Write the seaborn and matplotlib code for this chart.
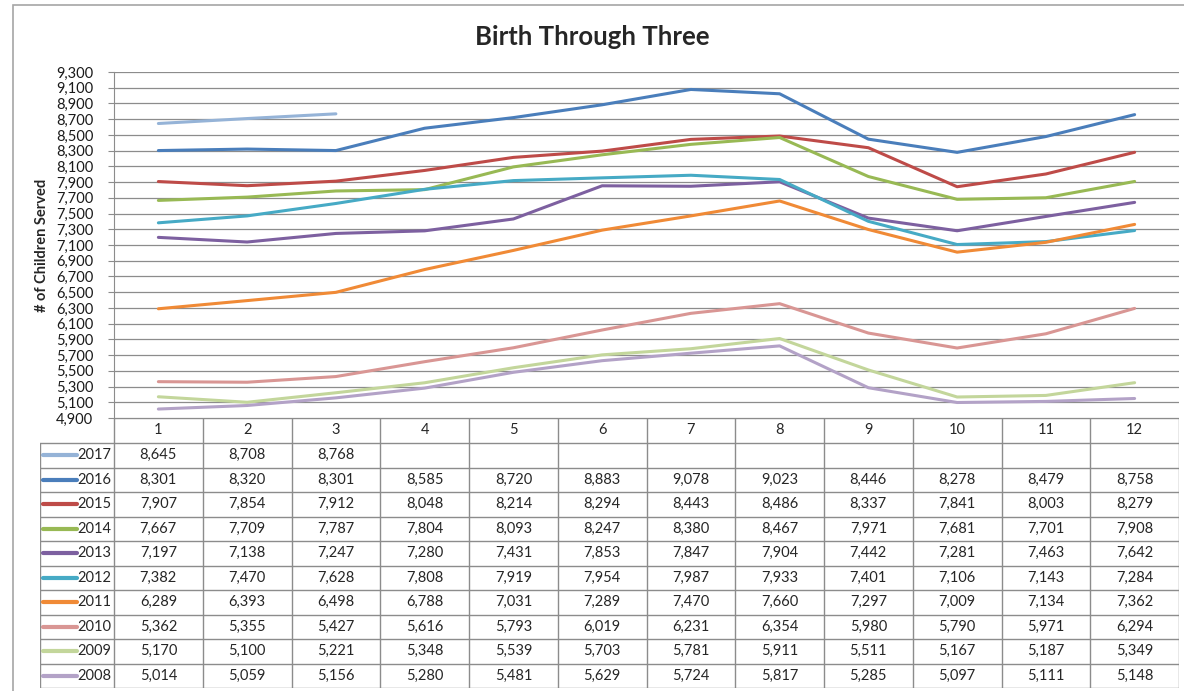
import pandas as pd
import matplotlib
matplotlib.use('Agg')
import matplotlib.pyplot as plt
import seaborn as sns
from matplotlib.ticker import FuncFormatter
from matplotlib.patches import Rectangle

# dados
meses = [1, 2, 3, 4, 5, 6, 7, 8, 9, 10, 11, 12]
anos = ['2017', '2016', '2015', '2014', '2013', '2012', '2011', '2010', '2009', '2008']
v2017 = [8645, 8708, 8768, None, None, None, None, None, None, None, None, None]
v2016 = [8301, 8320, 8301, 8585, 8720, 8883, 9078, 9023, 8446, 8278, 8479, 8758]
v2015 = [7907, 7854, 7912, 8048, 8214, 8294, 8443, 8486, 8337, 7841, 8003, 8279]
v2014 = [7667, 7709, 7787, 7804, 8093, 8247, 8380, 8467, 7971, 7681, 7701, 7908]
v2013 = [7197, 7138, 7247, 7280, 7431, 7853, 7847, 7904, 7442, 7281, 7463, 7642]
v2012 = [7382, 7470, 7628, 7808, 7919, 7954, 7987, 7933, 7401, 7106, 7143, 7284]
v2011 = [6289, 6393, 6498, 6788, 7031, 7289, 7470, 7660, 7297, 7009, 7134, 7362]
v2010 = [5362, 5355, 5427, 5616, 5793, 6019, 6231, 6354, 5980, 5790, 5971, 6294]
v2009 = [5170, 5100, 5221, 5348, 5539, 5703, 5781, 5911, 5511, 5167, 5187, 5349]
v2008 = [5014, 5059, 5156, 5280, 5481, 5629, 5724, 5817, 5285, 5097, 5111, 5148]
valores = [v2017, v2016, v2015, v2014, v2013, v2012, v2011, v2010, v2009, v2008]

cores = ['#95B3D7', '#4A7EBB', '#BE4B48', '#98B954', '#7D60A0', '#46AAC5',
         '#F08A36', '#D99694', '#C3D69B', '#B3A2C7']

linhas = []
for ano, vals in zip(anos, valores):
    for m, v in zip(meses, vals):
        linhas.append({'Mes': m, 'Ano': ano, 'Valor': v})
df = pd.DataFrame(linhas)

sns.set_style('white')
plt.rcParams['font.family'] = ['Lato', 'DejaVu Sans']

W, H = 1184, 691
fig = plt.figure(figsize=(W / 100, H / 100), dpi=100)

def px(x0, y0, x1, y1):
    return [x0 / W, 1 - y1 / H, (x1 - x0) / W, (y1 - y0) / H]

# moldura externa
fig.patches.append(Rectangle((13 / W, -0.1), 1.2, 1 - 5 / H + 0.1, transform=fig.transFigure,
                             fill=False, edgecolor='#a6a6a6', linewidth=1.2))

ax = fig.add_axes(px(114, 72, 1179, 418))
sns.lineplot(data=df, x='Mes', y='Valor', hue='Ano', hue_order=anos, palette=cores,
             linewidth=2.2, legend=False, ax=ax)
ax.set_xlim(0.5, 12.5)
ax.set_ylim(4900, 9300)
ax.set_yticks(range(4900, 9301, 200))
ax.yaxis.set_major_formatter(FuncFormatter(lambda v, p: f'{int(v):,}'))
ax.set_xticks([])
ax.set_xlabel('')
ax.set_ylabel('# of Children Served', fontsize=10.5, fontweight='bold')
ax.yaxis.set_label_coords(-65 / 1065, 0.5)
ax.grid(axis='y', color='#8c8c8c', linewidth=0.9)
ax.set_axisbelow(True)
for s in ['top', 'right', 'bottom']:
    ax.spines[s].set_visible(False)
ax.spines['left'].set_color('#8c8c8c')
ax.tick_params(axis='y', which='major', length=4, left=True, color='#8c8c8c',
               labelsize=10.5, pad=11, labelcolor='#1a1a1a')

fig.text(0.5, 1 - 37 / H, 'Birth Through Three', ha='center', va='center',
         fontsize=18.5, fontweight='bold')

# tabela de dados
tx = fig.add_axes(px(40, 418, 1179, 688))
tx.set_xlim(40, 1179)
tx.set_ylim(688, 418)
tx.axis('off')
x_col = 114
larg = (1179 - 114) / 12
y_top = 418
y_hdr = 443
alt = (688 - 443) / 10
grade = dict(color='#8c8c8c', linewidth=1.0)

for i in range(13):
    xx = x_col + i * larg
    tx.plot([xx, xx], [y_top, 688], **grade)
tx.plot([40, 40], [y_hdr, 688], **grade)
tx.plot([x_col, 1179], [y_top, y_top], **grade)
for r in range(11):
    yy = y_hdr + r * alt
    tx.plot([40, 1179], [yy, yy], **grade)

for i, m in enumerate(meses):
    tx.text(x_col + (i + 0.5) * larg, (y_top + y_hdr) / 2, str(m), ha='center', va='center', fontsize=10.5)

for r, (ano, vals, cor) in enumerate(zip(anos, valores, cores)):
    yc = y_hdr + (r + 0.5) * alt
    tx.plot([43, 77], [yc, yc], color=cor, linewidth=3.0, solid_capstyle='round')
    tx.text(111, yc, ano, ha='right', va='center', fontsize=10.5)
    for i, v in enumerate(vals):
        if v is not None:
            tx.text(x_col + (i + 0.5) * larg, yc, f'{v:,}', ha='center', va='center', fontsize=10.5)

fig.savefig('out.png', dpi=100)
